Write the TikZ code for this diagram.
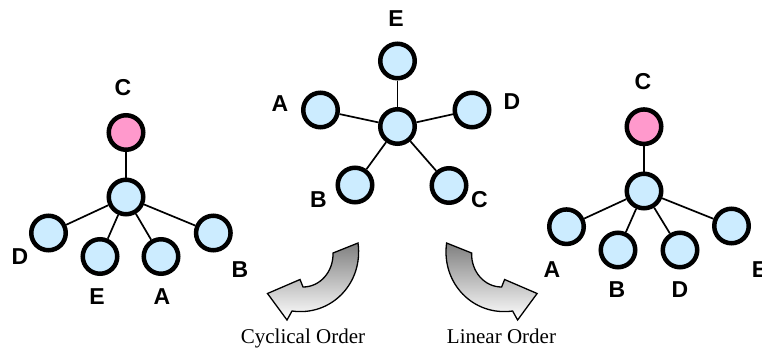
\documentclass[tikz,border=0pt]{standalone}
\usepackage{fontspec}
\setmainfont{Liberation Serif}
\setsansfont{Liberation Sans}
\definecolor{leafblue}{HTML}{CCECFF}
\definecolor{rootpink}{HTML}{FF99CC}
\begin{document}
\begin{tikzpicture}[x=1pt, y=-1pt,
  vertex/.style={circle, draw=black, line width=4.5pt, fill=leafblue, minimum size=34.5pt, inner sep=0pt},
  rootvertex/.style={vertex, fill=rootpink},
  edge/.style={draw=black, line width=1.7pt},
  tag/.style={inner sep=0pt, font=\sffamily\bfseries\fontsize{23}{27}\selectfont},
  caption/.style={inner sep=0pt, anchor=base, font=\rmfamily\fontsize{21}{25}\selectfont},
  turnarrow/.style={draw=black, line width=1.3pt, line join=miter, top color=black!50, bottom color=white}]
\useasboundingbox (0,0) rectangle (762,351);

% left tree, C on top
\node[rootvertex] (lroot) at (126,132.5) {};
\node[vertex] (lhub) at (126,197) {};
\node[vertex] (ld) at (48.5,233) {};
\node[vertex] (le) at (100,256.5) {};
\node[vertex] (la) at (161,256.5) {};
\node[vertex] (lb) at (213.3,233) {};
\draw[edge] (lroot) -- (lhub);
\draw[edge] (lhub) -- (ld);
\draw[edge] (lhub) -- (le);
\draw[edge] (lhub) -- (la);
\draw[edge] (lhub) -- (lb);
\node[tag] (lCtag) at (123,88) {C};
\node[tag] (lDtag) at (20,257) {D};
\node[tag] (lEtag) at (97,297) {E};
\node[tag] (lAtag) at (162,297) {A};
\node[tag] (lBtag) at (240,270) {B};

% middle star
\node[vertex] (mhub) at (397.5,126.5) {};
\node[vertex] (me) at (397.5,61) {};
\node[vertex] (ma) at (320.5,110) {};
\node[vertex] (md) at (472,110) {};
\node[vertex] (mb) at (355,185) {};
\node[vertex] (mc) at (449,185.5) {};
\draw[edge] (mhub) -- (me);
\draw[edge] (mhub) -- (ma);
\draw[edge] (mhub) -- (md);
\draw[edge] (mhub) -- (mb);
\draw[edge] (mhub) -- (mc);
\node[tag] (mEtag) at (396,18.5) {E};
\node[tag] (mAtag) at (280,104) {A};
\node[tag] (mDtag) at (512,102) {D};
\node[tag] (mBtag) at (318.5,199.5) {B};
\node[tag] (mCtag) at (479.5,199.5) {C};

% right tree, C on top
\node[rootvertex] (rroot) at (644,126.7) {};
\node[vertex] (rhub) at (644,191) {};
\node[vertex] (ra) at (566.5,226.7) {};
\node[vertex] (rb) at (618,250) {};
\node[vertex] (rd) at (680,250) {};
\node[vertex] (re) at (731.5,226) {};
\draw[edge] (rroot) -- (rhub);
\draw[edge] (rhub) -- (ra);
\draw[edge] (rhub) -- (rb);
\draw[edge] (rhub) -- (rd);
\draw[edge] (rhub) -- (re);
\node[tag] (rCtag) at (643,82) {C};
\node[tag] (rAtag) at (552,270) {A};
\node[tag] (rBtag) at (617,290) {B};
\node[tag] (rDtag) at (680,290) {D};
\node[tag] (rEtag) at (759.5,270) {E};

% curved block arrows
\draw[turnarrow] (358,243) .. controls (363.5,283) and (331.5,316.5) .. (292,311)
  -- (287,320) -- (267.5,293.5) -- (300,279.5) -- (303,287)
  .. controls (320,287) and (333.5,271.8) .. (333,253) -- cycle;
\draw[turnarrow] (446.6,243) .. controls (441.1,283) and (473.1,316.5) .. (512.6,311)
  -- (517.6,320) -- (537.1,293.5) -- (504.6,279.5) -- (501.6,287)
  .. controls (484.6,287) and (471.1,271.8) .. (471.6,253) -- cycle;

\node[caption] (cyc) at (303,343) {Cyclical Order};
\node[caption] (lin) at (501.5,343) {Linear Order};
\end{tikzpicture}
\end{document}
